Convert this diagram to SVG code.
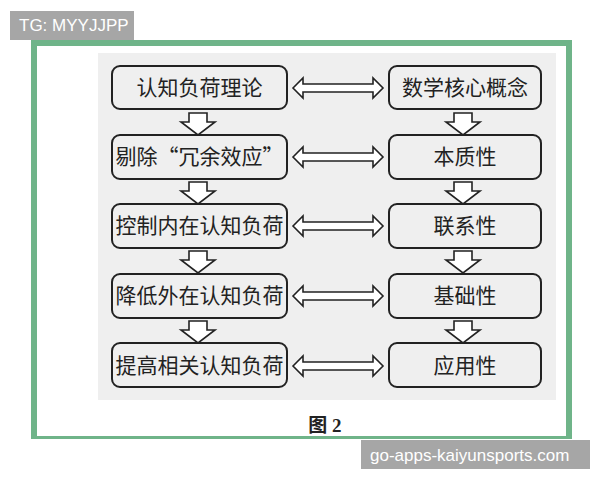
<svg xmlns="http://www.w3.org/2000/svg" width="600" height="480" viewBox="0 0 600 480">
<defs>
<style>
.b{fill:none;stroke:#222;stroke-width:2}
.t{font-family:"Noto Sans CJK SC",sans-serif;font-size:21px;fill:#222;text-anchor:middle}
.d{fill:#fff;stroke:#222;stroke-width:1.6}
.w{font-family:"Liberation Sans",sans-serif;font-size:17px;fill:#fff}
</style>
<path id="down" class="d" d="M-9,0 H9 V9 H17 L0,22 L-17,9 H-9 Z"/>
<path id="dbl" class="d" d="M0,0 L10,-10 V-4 H80 V-10 L90,0 L80,10 V4 H10 V10 Z"/>
</defs>
<rect x="0" y="0" width="600" height="480" fill="#fff"/>
<rect x="31" y="40" width="541" height="399" fill="#6fb489"/>
<rect x="37" y="46" width="529" height="390" fill="#fff"/>
<rect x="98" y="53" width="458" height="347" fill="#efefef"/>
<g id="connectors">
<use href="#dbl" x="293" y="88"/><use href="#dbl" x="293" y="157"/><use href="#dbl" x="293" y="226"/><use href="#dbl" x="293" y="296"/><use href="#dbl" x="293" y="366"/>
<use href="#down" x="198" y="113"/><use href="#down" x="198" y="182"/><use href="#down" x="198" y="251"/><use href="#down" x="198" y="321"/>
<use href="#down" x="463" y="113"/><use href="#down" x="463" y="182"/><use href="#down" x="463" y="251"/><use href="#down" x="463" y="321"/>
</g>
<g id="l1"><rect class="b" x="112" y="66" width="175" height="43" rx="8"/><text class="t" x="199.500" y="95">认知负荷理论</text></g>
<g id="l2"><rect class="b" x="112" y="135" width="175" height="44" rx="8"/><text class="t" x="199.500" y="164">剔除“冗余效应”</text></g>
<g id="l3"><rect class="b" x="112" y="204" width="175" height="44" rx="8"/><text class="t" x="199.500" y="233">控制内在认知负荷</text></g>
<g id="l4"><rect class="b" x="112" y="274" width="175" height="44" rx="8"/><text class="t" x="199.500" y="303">降低外在认知负荷</text></g>
<g id="l5"><rect class="b" x="112" y="343" width="175" height="44" rx="8"/><text class="t" x="199.500" y="373">提高相关认知负荷</text></g>
<g id="r1"><rect class="b" x="389" y="66" width="152" height="43" rx="8"/><text class="t" x="465" y="95">数学核心概念</text></g>
<g id="r2"><rect class="b" x="389" y="135" width="152" height="44" rx="8"/><text class="t" x="465" y="164">本质性</text></g>
<g id="r3"><rect class="b" x="389" y="204" width="152" height="44" rx="8"/><text class="t" x="465" y="233">联系性</text></g>
<g id="r4"><rect class="b" x="389" y="274" width="152" height="44" rx="8"/><text class="t" x="465" y="303">基础性</text></g>
<g id="r5"><rect class="b" x="389" y="343" width="152" height="44" rx="8"/><text class="t" x="465" y="373">应用性</text></g>
<text x="325" y="432" font-family="Liberation Serif,Noto Sans CJK SC,serif" font-size="19" font-weight="bold" fill="#222" text-anchor="middle">图 2</text>
<rect x="10" y="11" width="124" height="29" fill="#a6a6a6"/>
<text class="w" x="19" y="31">TG: MYYJJPP</text>
<rect x="361" y="440" width="229" height="29" fill="#a6a6a6"/>
<text class="w" x="370" y="461">go-apps-kaiyunsports.com</text>
</svg>
